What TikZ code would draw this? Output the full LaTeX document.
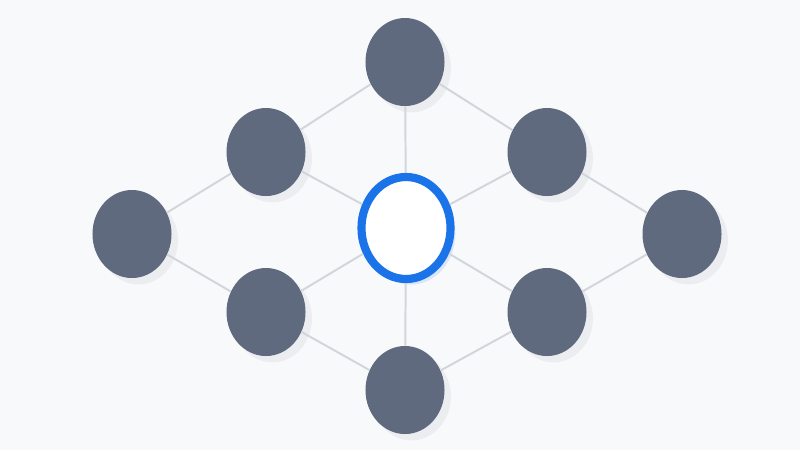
\documentclass[tikz,border=0pt]{standalone}
\usetikzlibrary{shapes.geometric, shadows}
\definecolor{bg}{HTML}{F8F9FA}
\definecolor{nodegray}{HTML}{5F6A7E}
\definecolor{edgegray}{HTML}{D2D5DA}
\definecolor{ringblue}{HTML}{1A73E8}
\begin{document}
\begin{tikzpicture}[x=0.025cm,y=-0.025cm,
  every node/.style={shape=ellipse,inner sep=0pt,minimum width=1.975cm,minimum height=2.2cm},
  outer/.style={fill=nodegray,drop shadow={shadow xshift=0.16cm,shadow yshift=-0.16cm,opacity=0.08,fill=nodegray}},
  hub/.style={fill=white,draw=ringblue,line width=5.8pt,minimum width=2.225cm,minimum height=2.55cm,
    drop shadow={shadow xshift=0.12cm,shadow yshift=-0.14cm,opacity=0.14,fill=ringblue}},
  link/.style={draw=edgegray,line width=1.4pt}]
  \fill[bg] (0,0) rectangle (800,450);
  \path (405,62) node[outer] (top) {} (266,152) node[outer] (ul) {} (547,152) node[outer] (ur) {}
  (132,234) node[outer] (l) {} (682,234) node[outer] (r) {}
  (266,312) node[outer] (dl) {} (547,312) node[outer] (dr) {} (405,390) node[outer] (bot) {};
  \draw[link] (top) -- (ul) -- (l) -- (dl) -- (bot) -- (dr) -- (r) -- (ur) -- (top);
  \path (406,228) node[hub] (c) {};
  \draw[link] (c) -- (top) (c) -- (ul) (c) -- (ur) (c) -- (dl) (c) -- (dr) (c) -- (bot);
\end{tikzpicture}
\end{document}
